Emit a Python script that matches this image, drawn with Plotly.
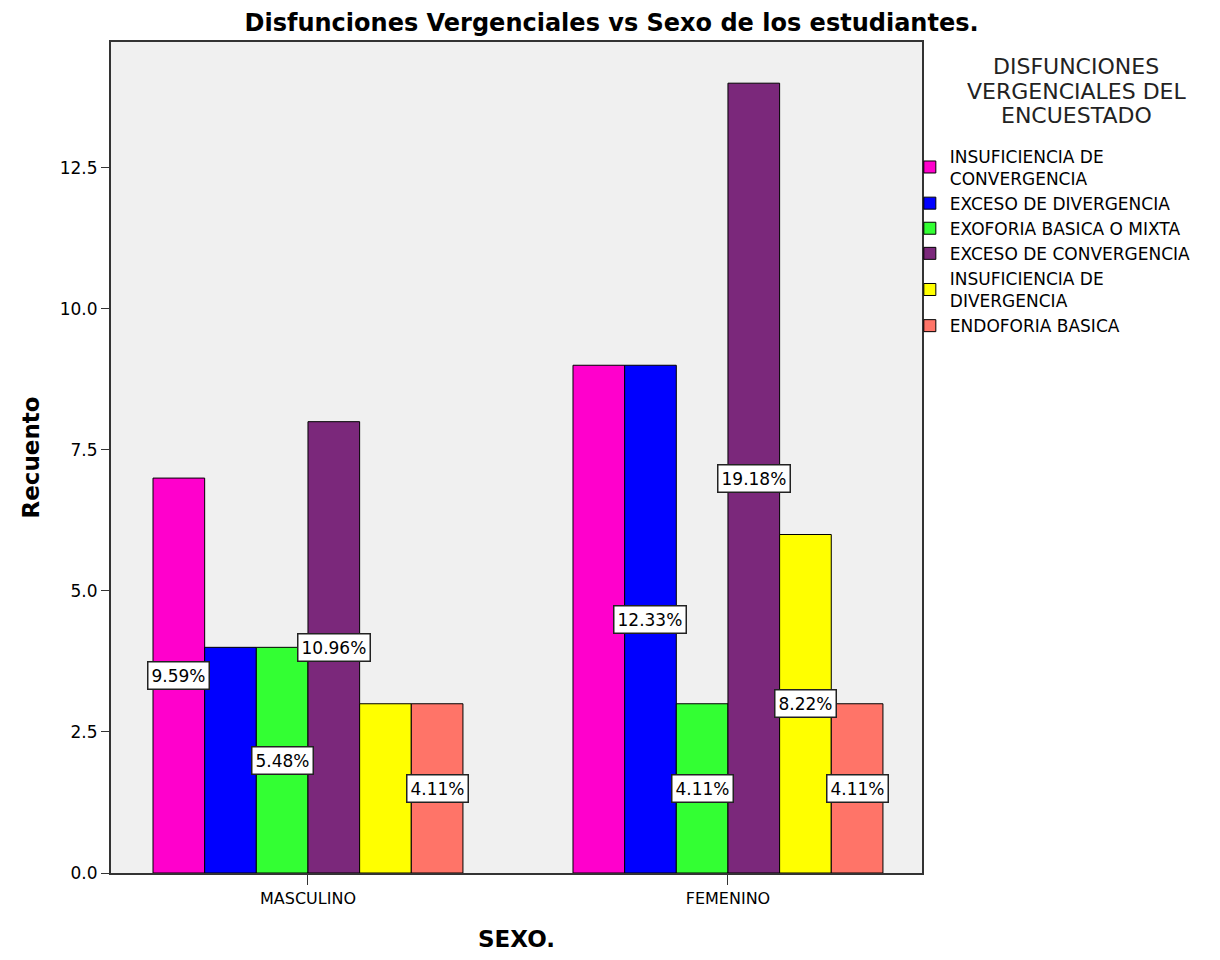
import plotly.graph_objects as go

# categories and series
sexo = ["MASCULINO", "FEMENINO"]
series = ["INSUFICIENCIA DE<br>CONVERGENCIA", "EXCESO DE DIVERGENCIA",
          "EXOFORIA BASICA O MIXTA", "EXCESO DE CONVERGENCIA",
          "INSUFICIENCIA DE<br>DIVERGENCIA", "ENDOFORIA BASICA"]
insuf_conv = [7, 9]
exceso_div = [4, 9]
exoforia = [4, 3]
exceso_conv = [8, 14]
insuf_div = [3, 6]
endoforia = [3, 3]
# percent labels as shown in the chart ("" = label hidden)
pct_insuf_conv = ["9.59%", ""]
pct_exceso_div = ["", "12.33%"]
pct_exoforia = ["5.48%", "4.11%"]
pct_exceso_conv = ["10.96%", "19.18%"]
pct_insuf_div = ["", "8.22%"]
pct_endoforia = ["4.11%", "4.11%"]
legend_title = ["DISFUNCIONES", "VERGENCIALES DEL", "ENCUESTADO"]

values = [insuf_conv, exceso_div, exoforia, exceso_conv, insuf_div, endoforia]
labels = [pct_insuf_conv, pct_exceso_div, pct_exoforia, pct_exceso_conv,
          pct_insuf_div, pct_endoforia]
colors = ["#FF00CC", "#0000FF", "#33FF33", "#7B287B", "#FFFF00", "#FF7468"]

font_fam = "DejaVu Sans, Liberation Sans, Arial, sans-serif"
bargap = 0.262
w = (1 - bargap) / len(series)
xpos = list(range(len(sexo)))

fig = go.Figure()
for name, vals, col in zip(series, values, colors):
    fig.add_trace(go.Bar(x=xpos, y=vals, name=name,
                         marker=dict(color=col, line=dict(color="black", width=1))))

# percentage boxes at mid-height of each bar
for j, (vals, labs) in enumerate(zip(values, labels)):
    for i, (v, t) in enumerate(zip(vals, labs)):
        if t:
            fig.add_annotation(x=i + (j - 2.5) * w, y=v / 2, text=t, showarrow=False,
                               bgcolor="white", bordercolor="#222", borderwidth=1.5,
                               borderpad=3, font=dict(size=17, color="black"))

# legend title, one line each, centred above the legend
for k, line in enumerate(legend_title):
    fig.add_annotation(xref="paper", yref="paper", x=1.19, y=0.970 - k * 0.0295,
                       text=line, showarrow=False, xanchor="center", yanchor="middle",
                       font=dict(size=22, color="#222"))

fig.update_layout(
    width=1212, height=952,
    margin=dict(l=103, r=298, t=34, b=85),
    barmode="group", bargap=bargap, bargroupgap=0,
    paper_bgcolor="white", plot_bgcolor="#F0F0F0",
    font=dict(family=font_fam, color="black"),
    title=dict(text="<b>Disfunciones Vergenciales vs Sexo de los estudiantes.</b>",
               x=0.498, xanchor="center", y=0.985, yanchor="middle",
               font=dict(size=24)),
    xaxis=dict(range=[-0.469, 1.462], tickvals=xpos, ticktext=sexo,
               ticks="outside", ticklen=10, tickcolor="#333", tickfont=dict(size=16),
               showline=True, linecolor="#333", linewidth=2, mirror=True,
               showgrid=False, zeroline=False,
               title=dict(text="<b>SEXO.</b>", font=dict(size=23), standoff=24)),
    yaxis=dict(range=[0, 14.73], tickvals=[0, 2.5, 5, 7.5, 10, 12.5], tickformat=".1f",
               ticks="outside", ticklen=8, tickcolor="#333", tickfont=dict(size=17),
               showline=True, linecolor="#333", linewidth=2, mirror=True,
               showgrid=False, zeroline=False,
               title=dict(text="<b>Recuento</b>", font=dict(size=23), standoff=14)),
    legend=dict(x=0.985, xanchor="left", y=0.884, yanchor="top",
                bgcolor="rgba(0,0,0,0)", font=dict(size=17), itemwidth=30),
)

fig.write_html("out.html")
